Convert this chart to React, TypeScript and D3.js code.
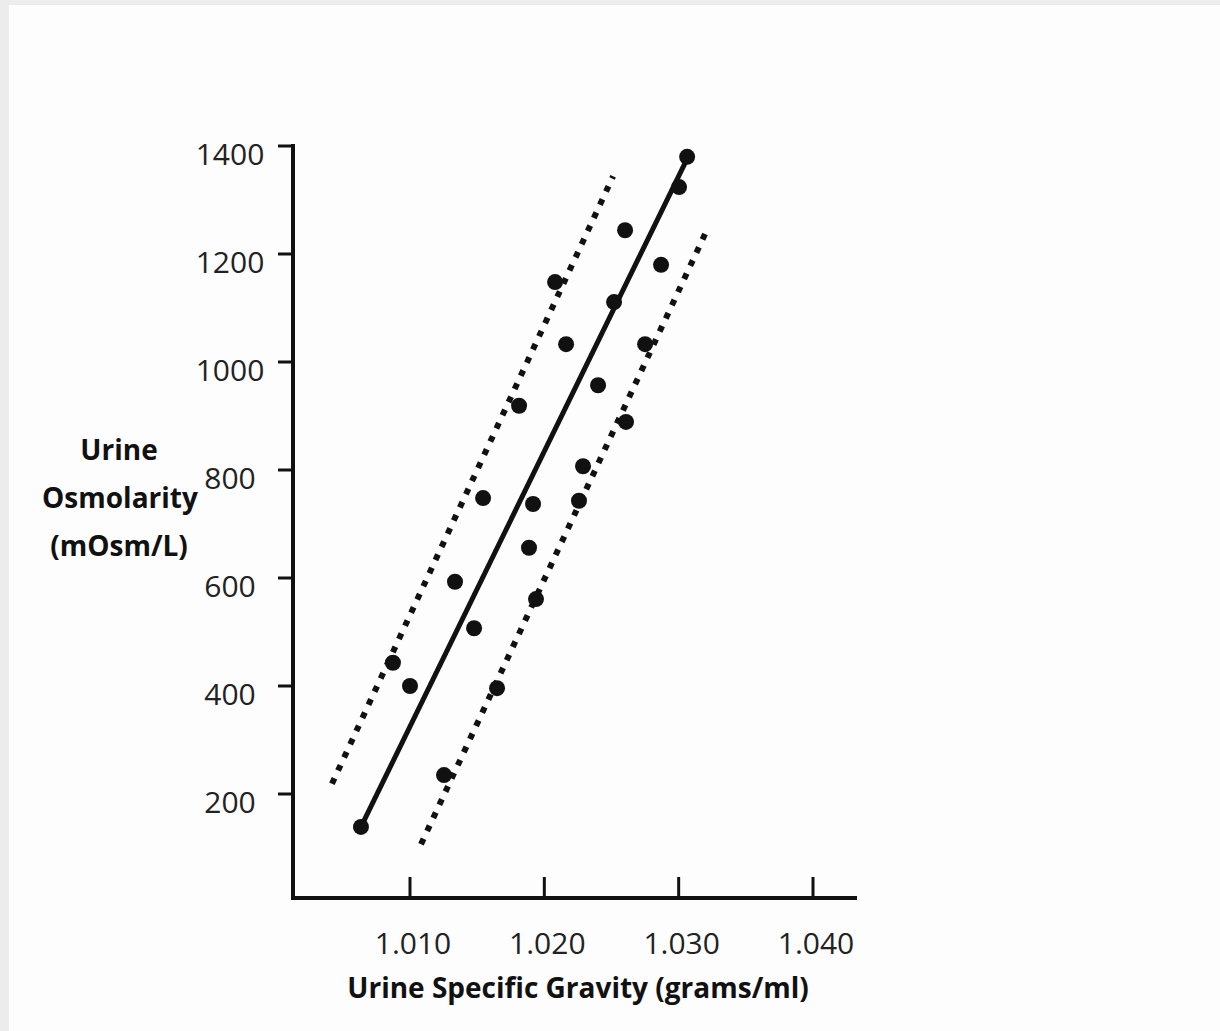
import React from 'react';
import * as d3 from 'd3';

// urine specific gravity (g/ml) and osmolarity (mOsm/L)
const gravity = [
  1.00635, 1.00873, 1.0100, 1.01253, 1.01335, 1.01477, 1.01544, 1.01648,
  1.01812, 1.01886, 1.01916, 1.01938, 1.0208, 1.02162, 1.02258, 1.02288,
  1.0240, 1.02519, 1.02601, 1.02608, 1.0275, 1.02869, 1.03003, 1.03063,
];
const osmolarity = [
  139, 443, 400, 235, 593, 507, 748, 396,
  919, 656, 737, 561, 1148, 1033, 743, 807,
  957, 1111, 1244, 889, 1033, 1180, 1324, 1380,
];

// regression line and the two limit lines, as [gravity, osmolarity] end points
const fitLine = [[1.00635, 139], [1.0307, 1380]];
const upperLine = [[1.00419, 219], [1.02512, 1344]];
const lowerLine = [[1.01082, 107], [1.03204, 1241]];

const xTicks = [1.01, 1.02, 1.03, 1.04];
const yTicks = [200, 400, 600, 800, 1000, 1200, 1400];

const font = '"Open Sans", sans-serif';

export default function App() {
  const width = 1220, height = 1031;

  const x = d3.scaleLinear().domain([1.01, 1.04]).range([410, 813]);
  const y = d3.scaleLinear().domain([200, 1400]).range([794, 146]);

  const axisX = 293, axisY = 898;

  const line = d3.line<number[]>()
    .x(d => x(d[0]))
    .y(d => y(d[1]));

  const points = gravity.map((g, i) => ({ g, o: osmolarity[i] }));

  return (
    <svg width={width} height={height} style={{ position: 'absolute', left: 0, top: 0 }}>
      <rect width={width} height={height} fill="#ececec" />
      <rect x={9} y={5} width={width - 9} height={height - 5} fill="#fdfdfd" />

      {/* limit lines */}
      <path d={line(upperLine) || ''} stroke="#111" strokeWidth={6} strokeDasharray="6 8.5" fill="none" />
      <path d={line(lowerLine) || ''} stroke="#111" strokeWidth={6} strokeDasharray="6 8.5" fill="none" />
      {/* regression line */}
      <path d={line(fitLine) || ''} stroke="#111" strokeWidth={5} fill="none" />

      {points.map((p, i) => (
        <circle key={i} cx={x(p.g)} cy={y(p.o)} r={8} fill="#111" />
      ))}

      {/* axes */}
      <line x1={axisX} x2={axisX} y1={y(1400) - 2} y2={axisY + 2} stroke="#111" strokeWidth={4} />
      <line x1={axisX - 2} x2={857} y1={axisY} y2={axisY} stroke="#111" strokeWidth={4} />

      {yTicks.map(t => (
        <g key={t}>
          <line x1={axisX - 15} x2={axisX} y1={y(t)} y2={y(t)} stroke="#111" strokeWidth={3} />
          <text x={230} y={y(t) + 19} textAnchor="middle" fontFamily={font} fontSize={30} fill="#222">{t}</text>
        </g>
      ))}

      {xTicks.map(t => (
        <g key={t}>
          <line x1={x(t)} x2={x(t)} y1={axisY} y2={axisY - 21} stroke="#111" strokeWidth={3} />
          <text x={x(t) + 3} y={954} textAnchor="middle" fontFamily={font} fontSize={30} fill="#222">
            {d3.format('.3f')(t)}
          </text>
        </g>
      ))}

      <text x={578} y={998} textAnchor="middle" fontFamily={font} fontWeight="bold" fontSize={28} fill="#111">
        Urine Specific Gravity (grams/ml)
      </text>

      <g fontFamily={font} fontWeight="bold" fontSize={28} fill="#111" textAnchor="middle">
        <text x={119} y={460}>Urine</text>
        <text x={120} y={508}>Osmolarity</text>
        <text x={119} y={556}>(mOsm/L)</text>
      </g>
    </svg>
  );
}
